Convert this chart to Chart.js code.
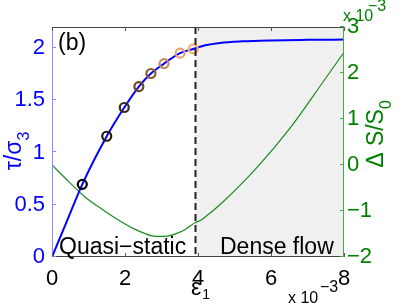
<!DOCTYPE html>
<html>
<head>
<meta charset="utf-8">
<script src="https://cdn.jsdelivr.net/npm/chart.js@4.4.0/dist/chart.umd.min.js"></script>
<style>
  html, body { margin: 0; padding: 0; background: #fff; }
</style>
</head>
<body>
<canvas id="chart" width="399" height="305"></canvas>
<script>
// strain (x 10^-3) vs shear stress tau/sigma3
const strain = [0, 0.4, 0.83, 1.50, 1.98, 2.38, 2.71, 3.07, 3.51, 3.87, 4.2, 4.6, 5.2, 6.0, 7.0, 8.0];
const stress = [0, 0.335, 0.695, 1.155, 1.43, 1.63, 1.755, 1.85, 1.95, 1.99, 2.025, 2.048, 2.063, 2.072, 2.077, 2.08];

// marked states along the stress curve
const markX = [0.83, 1.50, 1.98, 2.38, 2.71, 3.07, 3.51, 3.87];
const markY = [0.695, 1.155, 1.43, 1.63, 1.755, 1.85, 1.95, 1.99];
const markColors = ['#000000', '#231810', '#3d2a1a', '#6b4428', '#8d5a38', '#c98858', '#f0a068', '#f8b070'];

// entropy change Delta S/S0 (x 10^-3)
const entropyX = [0, 0.46, 0.91, 1.37, 1.83, 2.28, 2.74, 3.2, 3.47, 3.65, 3.93, 4.1, 4.69, 5.6, 6.52, 7.43, 8.0];
const entropyY = [0.0, -0.36, -0.70, -0.96, -1.20, -1.40, -1.54, -1.54, -1.47, -1.40, -1.25, -1.19, -0.80, -0.07, 0.80, 1.81, 2.45];

const epsilon1 = 3.92;

const xTicks = [0, 2, 4, 6, 8];
const leftTicks = [0, 0.5, 1, 1.5, 2];
const rightTicks = [-2, -1, 0, 1, 2, 3];

const FONT = '"Liberation Sans", Arial, Helvetica, sans-serif';
const BLUE = '#0000ff';
const GREEN = '#008000';

function pts(xs, ys) {
  return xs.map((v, i) => ({ x: v, y: ys[i] }));
}

function fixTicks(list) {
  return scale => { scale.ticks = list.map(v => ({ value: v })); };
}

function fmt(v) {
  return v < 0 ? '\u2212' + Math.abs(v) : String(v);
}

const decor = {
  id: 'decor',
  beforeDatasetsDraw(chart) {
    const { ctx, chartArea: a, scales: { x } } = chart;
    const xe = x.getPixelForValue(epsilon1);
    ctx.save();
    ctx.fillStyle = '#f0f0f0';
    ctx.fillRect(xe, a.top, a.right - xe, a.bottom - a.top);
    ctx.restore();
  },
  afterDatasetsDraw(chart) {
    const { ctx, chartArea: a, scales: { x } } = chart;
    const xe = Math.round(x.getPixelForValue(epsilon1)) + 0.5;
    ctx.save();
    ctx.strokeStyle = '#222';
    ctx.lineWidth = 2;
    ctx.setLineDash([7, 4]);
    ctx.beginPath();
    ctx.moveTo(xe, a.top);
    ctx.lineTo(xe, a.bottom);
    ctx.stroke();
    ctx.restore();
  },
  afterDraw(chart) {
    const { ctx, chartArea: a, scales: { x, y, y2 } } = chart;
    ctx.save();
    ctx.lineWidth = 1;

    // frame
    ctx.strokeStyle = '#444';
    ctx.beginPath();
    ctx.moveTo(a.left, a.top + 0.5); ctx.lineTo(a.right, a.top + 0.5);
    ctx.moveTo(a.left, a.bottom - 0.5); ctx.lineTo(a.right, a.bottom - 0.5);
    ctx.stroke();
    ctx.strokeStyle = '#8c8cff';
    ctx.beginPath();
    ctx.moveTo(a.left + 0.5, a.top); ctx.lineTo(a.left + 0.5, a.bottom);
    ctx.stroke();
    ctx.strokeStyle = '#4aa84a';
    ctx.beginPath();
    ctx.moveTo(a.right - 0.5, a.top); ctx.lineTo(a.right - 0.5, a.bottom);
    ctx.stroke();

    // inward ticks
    ctx.strokeStyle = '#8c8cff';
    ctx.beginPath();
    leftTicks.forEach(v => {
      const py = Math.round(y.getPixelForValue(v)) - 0.5;
      ctx.moveTo(a.left, py); ctx.lineTo(a.left + 4, py);
    });
    ctx.stroke();
    ctx.strokeStyle = '#4aa84a';
    ctx.beginPath();
    rightTicks.forEach(v => {
      const py = Math.round(y2.getPixelForValue(v)) - 0.5;
      ctx.moveTo(a.right, py); ctx.lineTo(a.right - 4, py);
    });
    ctx.stroke();
    ctx.strokeStyle = '#555';
    ctx.beginPath();
    xTicks.forEach(v => {
      const px = Math.round(x.getPixelForValue(v)) + 0.5;
      ctx.moveTo(px, a.bottom); ctx.lineTo(px, a.bottom - 4);
      ctx.moveTo(px, a.top); ctx.lineTo(px, a.top + 4);
    });
    ctx.stroke();

    // annotations
    ctx.fillStyle = '#000';
    ctx.textBaseline = 'alphabetic';
    ctx.textAlign = 'left';
    ctx.font = '23px ' + FONT;
    ctx.fillText('(b)', a.left + 6, a.top + 23);
    ctx.fillText('Quasi\u2212static', a.left + 7, a.bottom - 3);
    ctx.fillText('Dense flow', 220, a.bottom - 3);

    // x axis label
    ctx.font = '23px ' + FONT;
    const ex = x.getPixelForValue(4) - 7;
    ctx.fillText('\u03b5', ex, 295);
    const ew = ctx.measureText('\u03b5').width;
    ctx.font = '14px ' + FONT;
    ctx.fillText('1', ex + ew + 1, 299);

    // x exponent
    ctx.font = '16px ' + FONT;
    ctx.fillText('x 10', 288, 303);
    ctx.fillText('\u22123', 320, 292);

    // right exponent
    ctx.fillStyle = GREEN;
    ctx.fillText('x 10', 343, 21);
    ctx.fillText('\u22123', 368, 11);

    // left axis title
    ctx.save();
    ctx.translate(21, 151);
    ctx.rotate(-Math.PI / 2);
    ctx.fillStyle = BLUE;
    ctx.font = '23px ' + FONT;
    const lw = ctx.measureText('\u03c4/\u03c3').width;
    ctx.font = '16px ' + FONT;
    const lsw = ctx.measureText('3').width;
    const lx = -(lw + lsw) / 2;
    ctx.font = '23px ' + FONT;
    ctx.fillText('\u03c4/\u03c3', lx, 0);
    ctx.font = '16px ' + FONT;
    ctx.fillText('3', lx + lw, 8);
    ctx.restore();

    // right axis title
    ctx.save();
    ctx.translate(383, 134);
    ctx.rotate(-Math.PI / 2);
    ctx.fillStyle = GREEN;
    ctx.font = '23px ' + FONT;
    const rw = ctx.measureText('\u0394 S/S').width;
    ctx.font = '16px ' + FONT;
    const rsw = ctx.measureText('0').width;
    const rx = -(rw + rsw) / 2;
    ctx.font = '23px ' + FONT;
    ctx.fillText('\u0394 S/S', rx, 0);
    ctx.font = '16px ' + FONT;
    ctx.fillText('0', rx + rw, 8);
    ctx.restore();

    ctx.restore();
  }
};

new Chart(document.getElementById('chart'), {
  type: 'scatter',
  data: {
    datasets: [
      {
        data: pts(markX, markY),
        yAxisID: 'y',
        showLine: false,
        pointStyle: 'circle',
        pointRadius: 4.5,
        pointBorderWidth: 2.2,
        pointBorderColor: markColors,
        pointBackgroundColor: 'rgba(0,0,0,0)',
        order: 0
      },
      {
        data: pts(strain, stress),
        yAxisID: 'y',
        showLine: true,
        borderColor: BLUE,
        borderWidth: 2,
        pointRadius: 0,
        cubicInterpolationMode: 'monotone',
        order: 1
      },
      {
        data: pts(entropyX, entropyY),
        yAxisID: 'y2',
        showLine: true,
        borderColor: '#1c8c1c',
        borderWidth: 1.2,
        pointRadius: 0,
        tension: 0.3,
        order: 2
      }
    ]
  },
  options: {
    responsive: false,
    animation: false,
    layout: { padding: { top: 27, left: 0, right: 0, bottom: 0 } },
    plugins: { legend: { display: false }, tooltip: { enabled: false } },
    scales: {
      x: {
        type: 'linear',
        min: 0, max: 8,
        afterBuildTicks: fixTicks(xTicks),
        afterFit: s => { s.height = 48; },
        grid: { display: false, drawTicks: false },
        border: { display: false },
        ticks: {
          color: '#000', padding: 9, autoSkip: false, maxRotation: 0,
          font: { family: FONT, size: 22 },
          callback: v => fmt(v)
        }
      },
      y: {
        type: 'linear',
        position: 'left',
        min: 0, max: 2.2,
        afterBuildTicks: fixTicks(leftTicks),
        afterFit: s => { s.width = 52; },
        grid: { display: false, drawTicks: false },
        border: { display: false },
        ticks: {
          color: BLUE, padding: 7,
          font: { family: FONT, size: 22 },
          callback: v => fmt(v)
        }
      },
      y2: {
        type: 'linear',
        position: 'right',
        min: -2, max: 3,
        afterBuildTicks: fixTicks(rightTicks),
        afterFit: s => { s.width = 55; },
        grid: { display: false, drawTicks: false },
        border: { display: false },
        ticks: {
          color: GREEN, padding: 3,
          font: { family: FONT, size: 22 },
          callback: v => fmt(v)
        }
      }
    }
  },
  plugins: [decor]
});
</script>
</body>
</html>
